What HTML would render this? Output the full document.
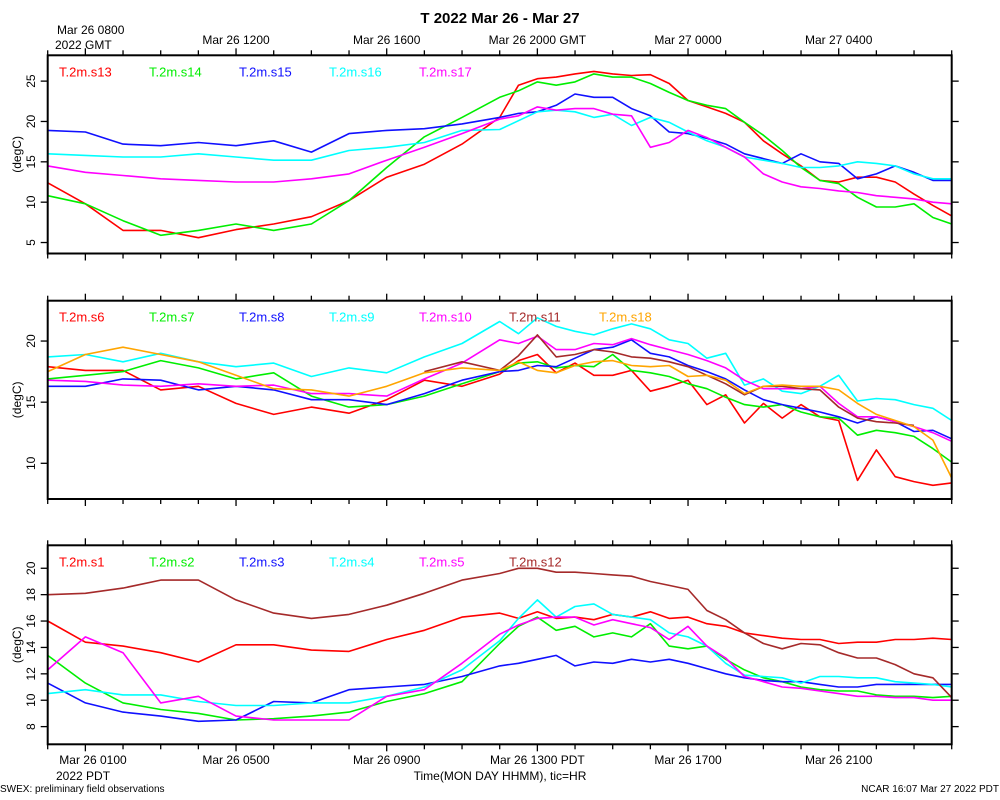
<!DOCTYPE html>
<html><head><meta charset="utf-8"><style>
html,body{margin:0;padding:0;background:#fff;}
svg{display:block;font-family:"Liberation Sans",sans-serif;}
</style></head><body>
<svg id="chart" width="1000" height="800" viewBox="0 0 1000 800" xmlns="http://www.w3.org/2000/svg">
<text x="500" y="23" text-anchor="middle" font-size="15" font-weight="bold">T 2022 Mar 26 - Mar 27</text>
<text x="57" y="34" font-size="12">Mar 26 0800</text>
<text x="55" y="49" font-size="12">2022 GMT</text>
<text x="56" y="780" font-size="12">2022 PDT</text>
<text x="500" y="780" text-anchor="middle" font-size="12">Time(MON DAY HHMM), tic=HR</text>
<text x="0" y="792" font-size="10">SWEX: preliminary field observations</text>
<text x="999" y="792" text-anchor="end" font-size="10">NCAR 16:07 Mar 27 2022 PDT</text>
<g id="plots"></g>
</svg>
<script>
const timesA = [0,1,2,3,4,5,6,7,8,9,10,11,12,12.5,13,13.5,14,14.5,15,15.5,16,16.5,17,17.5,18,18.5,19,19.5,20,20.5,21,21.5,22,22.5,23,23.5,24];
// panel 1
const s13 = [12.4,9.8,6.5,6.5,5.6,6.6,7.3,8.2,10.2,13.1,14.7,17.2,20.5,24.5,25.3,25.5,25.9,26.2,25.9,25.7,25.8,24.7,22.6,21.8,21,19.9,17.6,16,14.5,12.7,12.5,13.1,13.1,12.5,11,9.6,8.3];
const s14 = [10.8,9.8,7.7,5.9,6.5,7.3,6.5,7.3,10.2,14.3,18.1,20.5,23,23.8,24.9,24.5,24.9,25.9,25.5,25.5,24.7,23.6,22.6,22,21.6,19.9,18.3,16.4,14.3,12.7,12.3,10.6,9.4,9.4,9.8,8.1,7.3];
const s15 = [18.9,18.7,17.2,17,17.4,17,17.6,16.2,18.5,18.9,19.1,19.7,20.5,21,21.2,22,23.4,23,23,21.6,20.7,18.7,18.5,17.9,17.2,16,15.4,14.8,16,15,14.8,12.9,13.5,14.5,13.7,12.7,12.7];
const s16 = [16,15.8,15.6,15.6,16,15.6,15.2,15.2,16.4,16.8,17.4,18.9,19,20.1,21.2,21.4,21.2,20.5,20.9,19.5,20.5,19.9,18.7,17.6,16.8,15.6,15.2,14.8,14.3,14.3,14.5,15,14.8,14.5,13.5,12.9,12.9];
const s17 = [14.5,13.7,13.3,12.9,12.7,12.5,12.5,12.9,13.5,15.2,16.8,18.5,20.3,20.7,21.8,21.4,21.6,21.6,20.9,20.7,16.8,17.4,18.9,18,16.8,15.6,13.5,12.5,11.9,11.7,11.4,11.2,10.8,10.6,10.4,10,9.8];
// panel 2
const s6 = [17.9,17.6,17.6,16,16.3,14.9,14,14.6,14.1,15.2,16.8,16.3,17.3,18.4,18.9,17.4,18.2,17.2,17.2,17.6,15.9,16.3,16.8,14.8,15.6,13.3,14.9,13.7,14.8,13.8,13.5,8.6,11.1,8.9,8.5,8.2,8.4];
const s7 = [16.9,17.2,17.5,18.4,17.8,16.9,17.4,15.5,14.6,14.8,15.5,16.5,17.5,18.2,18.3,17.8,18,17.9,18.9,17.6,17.4,17.1,16.5,16.1,15.4,14.8,14.6,14.8,14.2,13.8,13.7,12.3,12.7,12.5,12.2,11.2,10.1];
const s8 = [16.3,16.3,16.9,16.8,16,16.3,16,15.2,15.2,14.8,15.7,16.8,17.5,17.6,18,17.9,18.6,19.3,19.5,20.1,19,18.7,18,17.5,16.9,16,15.2,14.8,14.5,14.2,13.8,13.3,13.8,13.4,12.6,12.7,12];
const s9 = [18.7,18.9,18.3,19,18.3,17.9,18.2,17.1,17.8,17.4,18.7,19.8,21.6,20.6,21.9,21.2,20.8,20.5,21,21.4,21,20.1,19.8,18.6,19,16.4,16.9,15.9,15.7,16.3,17.2,15.1,15.3,15.2,14.8,14.5,13.5];
const s10 = [16.8,16.7,16.4,16.3,16.5,16.3,16.4,15.7,15.7,15.5,16.9,18.2,20.1,19.8,20.4,19.3,19.3,19.8,19.7,20.2,19.7,19.3,18.9,18.4,17.8,16.8,16.1,16.1,16.1,16.3,14.9,13.8,13.8,13.4,13,12.5,11.8];
const s11 = [null,null,null,null,null,null,null,null,null,null,17.5,18.3,17.6,18.8,20.5,18.7,18.9,19.3,19.1,18.7,18.6,18.3,17.9,17.2,16.5,15.6,16.3,16.3,16.1,16,14.6,13.7,13.4,13.3,13.1,null,null];
const s18 = [17.5,18.9,19.5,18.9,18.3,17.2,16.1,16,15.5,16.3,17.4,17.8,17.6,18.3,17.6,17.4,18,18.3,18.4,18,17.9,18,17.1,17.2,16.8,15.7,16.3,16.4,16.3,16.3,16,14.9,14,13.5,13,11.9,8.8];
// panel 3
const s1 = [16,14.4,14.1,13.6,12.9,14.2,14.2,13.8,13.7,14.6,15.3,16.3,16.6,16.2,16.7,16.2,16.3,16.1,16.5,16.3,16.7,16.2,16.3,15.8,15.6,15.1,14.9,14.7,14.6,14.6,14.3,14.4,14.4,14.6,14.6,14.7,14.6];
const s2 = [13.4,11.3,9.8,9.3,9,8.5,8.6,8.8,9.1,9.9,10.5,11.4,14.3,15.6,16.3,15.3,15.6,14.8,15.1,14.8,15.8,14.1,13.9,14.1,13.1,12.3,11.7,11.4,11,10.8,10.7,10.7,10.4,10.3,10.3,10.2,10.3];
const s3 = [11.3,9.8,9.1,8.8,8.4,8.5,9.9,9.8,10.8,11,11.2,11.8,12.6,12.8,13.1,13.4,12.6,12.9,12.8,13.1,12.9,13.1,12.8,12.4,12,11.7,11.5,11.4,11.4,11.2,11,11,11.2,11.2,11.2,11.2,11.2];
const s4 = [10.5,10.8,10.4,10.4,9.9,9.6,9.6,9.8,9.8,10.3,11,12.3,14.5,16.2,17.6,16.3,17.1,17.3,16.5,16.3,16.1,15.1,14.8,14.1,12.8,11.9,11.8,11.7,11.3,11.8,11.8,11.7,11.7,11.4,11.3,11.2,11];
const s5 = [12.3,14.8,13.6,9.8,10.3,8.8,8.5,8.5,8.5,10.3,10.8,12.8,15,15.7,16.2,16.3,16.3,15.7,16.1,15.8,15.5,14.6,15.6,14.1,13.2,11.8,11.4,11,10.9,10.7,10.5,10.3,10.3,10.2,10.2,10,10];
const s12 = [18,18.1,18.5,19.1,19.1,17.6,16.6,16.2,16.5,17.2,18.1,19.1,19.6,20,20,19.7,19.7,19.6,19.5,19.4,19,18.7,18.4,16.8,16.1,15.1,14.3,13.9,14.3,14.2,13.6,13.2,13.2,12.7,12,11.7,10.2];

const yTicks1 = [5,10,15,20,25];
const yTicks2 = [10,15,20];
const yTicks3 = [8,10,12,14,16,18,20];
const topLabels = ["Mar 26 1200","Mar 26 1600","Mar 26 2000 GMT","Mar 27 0000","Mar 27 0400"];
const bottomLabels = ["Mar 26 0100","Mar 26 0500","Mar 26 0900","Mar 26 1300 PDT","Mar 26 1700","Mar 26 2100"];

const NS = "http://www.w3.org/2000/svg";
const X0 = 47.7, X1 = 951.7, H0 = 0, H1 = 24;
function xs(h){ return X0 + (h - H0) / (H1 - H0) * (X1 - X0); }
function mk(tag, attrs, parent){ const e = document.createElementNS(NS, tag); for (const k in attrs) e.setAttribute(k, attrs[k]); parent.appendChild(e); return e; }

const panels = [
  {name:"panel-top", top:55.3, bot:253.5, vTop:28.2, vBot:3.64, ticks:yTicks1,
   series:[["T.2m.s13",s13,"#ff0000"],["T.2m.s14",s14,"#00ee00"],["T.2m.s15",s15,"#1010ff"],["T.2m.s16",s16,"#00ffff"],["T.2m.s17",s17,"#ff00ff"]]},
  {name:"panel-middle", top:300.7, bot:499, vTop:23.3, vBot:7.08, ticks:yTicks2,
   series:[["T.2m.s6",s6,"#ff0000"],["T.2m.s7",s7,"#00ee00"],["T.2m.s8",s8,"#1010ff"],["T.2m.s9",s9,"#00ffff"],["T.2m.s10",s10,"#ff00ff"],["T.2m.s11",s11,"#a52a2a"],["T.2m.s18",s18,"#ffa500"]]},
  {name:"panel-bottom", top:545.3, bot:744.3, vTop:21.74, vBot:6.66, ticks:yTicks3,
   series:[["T.2m.s1",s1,"#ff0000"],["T.2m.s2",s2,"#00ee00"],["T.2m.s3",s3,"#1010ff"],["T.2m.s4",s4,"#00ffff"],["T.2m.s5",s5,"#ff00ff"],["T.2m.s12",s12,"#a52a2a"]]}
];
const root = document.getElementById("plots");
panels.forEach((p, pi) => {
  const g = mk("g", {}, root);
  
  
  const ys = v => p.top + (p.vTop - v) / (p.vTop - p.vBot) * (p.bot - p.top);
  // series
  p.series.forEach((s, si) => {
    let d = "", pen = false;
    s[1].forEach((v, i) => {
      if (v === null) { pen = false; return; }
      d += (pen ? "L" : "M") + xs(timesA[i]).toFixed(1) + "," + ys(v).toFixed(1);
      pen = true;
    });
    const path = mk("path", {d:d, fill:"none", stroke:s[2], "stroke-width":1.6, "stroke-linejoin":"round"}, g);
    
    
    const lt = mk("text", {x:59 + si*90, y:p.top + 21, fill:s[2], "font-size":13}, g);
    
    
    lt.textContent = s[0];
  });
  // frame
  const fr = mk("rect", {x:X0, y:p.top, width:X1-X0, height:p.bot-p.top, fill:"none", stroke:"#000", "stroke-width":2}, g);
  
  
  // x ticks
  for (let h = 0; h <= 24; h++) {
    const major = (h % 4 === 1);
    const len = major ? 7 : 5;
    const t1 = mk("line", {x1:xs(h), x2:xs(h), y1:p.top, y2:p.top - len, stroke:"#000", "stroke-width":1.3}, g);
    
    
    const t2 = mk("line", {x1:xs(h), x2:xs(h), y1:p.bot, y2:p.bot + len, stroke:"#000", "stroke-width":1.3}, g);
    
    
  }
  // y ticks
  p.ticks.forEach(v => {
    const y = ys(v);
    const a = mk("line", {x1:X0, x2:X0-7, y1:y, y2:y, stroke:"#000", "stroke-width":1.3}, g);
    
    
    const b = mk("line", {x1:X1, x2:X1+7, y1:y, y2:y, stroke:"#000", "stroke-width":1.3}, g);
    
    
    const t = mk("text", {x:35, y:y, transform:"rotate(-90 35 " + y + ")", "text-anchor":"middle", "font-size":12}, g);
    
    
    t.textContent = v;
  });
  const cy = (p.top + p.bot) / 2;
  const yt = mk("text", {x:21, y:cy, transform:"rotate(-90 21 " + cy + ")", "text-anchor":"middle", "font-size":12}, g);
  
  
  yt.textContent = "(degC)";
});
// top GMT labels (hours 5,9,13,17,21)
topLabels.forEach((l, i) => {
  const t = mk("text", {x:xs(5 + 4*i), y:44, "text-anchor":"middle", "font-size":12}, root);
  
  
  t.textContent = l;
});
bottomLabels.forEach((l, i) => {
  const x = i === 0 ? 93 : xs(1 + 4*i);
  const t = mk("text", {x:x, y:764, "text-anchor":"middle", "font-size":12}, root);
  
  
  t.textContent = l;
});
</script>
</body></html>
